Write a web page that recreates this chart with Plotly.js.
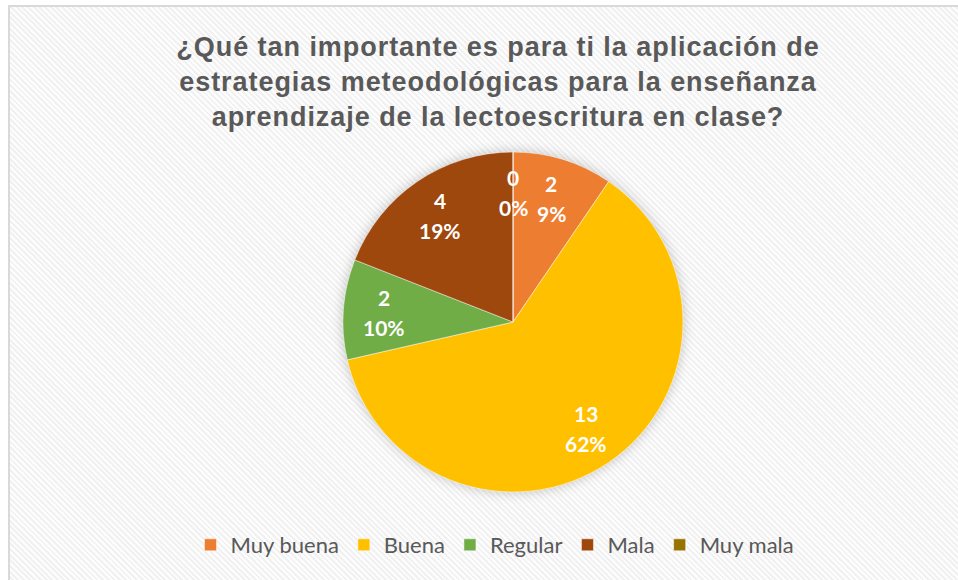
<!DOCTYPE html>
<html>
<head>
<meta charset="utf-8">
<script src="https://cdn.plot.ly/plotly-3.0.1.min.js"></script>
<style>
  html, body { margin:0; padding:0; background:#ffffff; width:958px; height:580px; overflow:hidden; }
  #bg { position:absolute; left:8px; top:5px; width:1000px; height:1000px;
        border:2px solid #d9d9d9; box-sizing:border-box;
        background-color:#fdfdfd;
        background-image: repeating-linear-gradient(45deg, #f1f1f1 0px, #f1f1f1 2px, #fdfdfd 2px, #fdfdfd 4px); }
  #chart { position:absolute; left:0; top:0; width:958px; height:580px; }
  .pielayer { filter: drop-shadow(0px 0px 6px rgba(0,0,0,0.22)); }
  .gtitle { letter-spacing: 0.95px; }
</style>
</head>
<body>
<div id="bg"></div>
<div id="chart"></div>
<script>
// ---- data ----
const categories = ["Muy buena", "Buena", "Regular", "Mala", "Muy mala"];
const counts = [2, 13, 2, 4, 0];
const percentLabels = ["9%", "62%", "10%", "19%", "0%"];
const colors = ["#ED7D31", "#FFC000", "#70AD47", "#9E480E", "#997300"];
const titleText = "¿Qué tan importante es para ti la aplicación de<br>estrategias meteodológicas para la enseñanza<br>aprendizaje de la lectoescritura en clase?";

// ---- layout geometry ----
const W = 958, H = 580;
const cxPx = 513, cyPx = 322, R = 170;
const domX = [(cxPx - R) / W, (cxPx + R) / W];
const domY = [(H - cyPx - R) / H, (H - cyPx + R) / H];

const trace = {
  type: "pie",
  labels: categories,
  values: counts,
  sort: false,
  direction: "clockwise",
  rotation: 0,
  marker: { colors: colors, line: { color: "rgba(255,255,255,0.6)", width: 0.8 } },
  textinfo: "none",
  hoverinfo: "label+value+percent",
  domain: { x: domX, y: domY },
  showlegend: true
};

// data labels placed at each slice's mid-angle (derived from the data)
const total = counts.reduce((a, b) => a + b, 0);
const annotations = [];
let cum = 0;
const labFont = { family: "Lato, 'Liberation Sans', sans-serif", size: 21, color: "#ffffff", weight: "bold" };
counts.forEach((v, i) => {
  const a0 = cum / total * 2 * Math.PI;
  cum += v;
  const a1 = cum / total * 2 * Math.PI;
  const mid = (a0 + a1) / 2;
  const rl = R * 0.76;
  const px = cxPx + rl * Math.sin(mid);
  const py = (H - cyPx) + rl * Math.cos(mid);
  const x = px / W, y = py / H;
  annotations.push({ xref: "paper", yref: "paper", x: x, y: y, text: "<b>" + v + "</b>",
    showarrow: false, xanchor: "center", yanchor: "middle", yshift: 15, font: labFont });
  annotations.push({ xref: "paper", yref: "paper", x: x, y: y, text: "<b>" + percentLabels[i] + "</b>",
    showarrow: false, xanchor: "center", yanchor: "middle", yshift: -15, font: labFont });
});

const layout = {
  width: W, height: H,
  margin: { l: 0, r: 0, t: 0, b: 0 },
  paper_bgcolor: "rgba(0,0,0,0)",
  plot_bgcolor: "rgba(0,0,0,0)",
  title: {
    text: "<b>" + titleText + "</b>",
    font: { family: "'Liberation Sans', Arial, sans-serif", size: 27, color: "#595959" },
    x: 498 / W, xanchor: "center", xref: "paper",
    y: 1 - 56 / H, yanchor: "middle", yref: "paper"
  },
  legend: {
    orientation: "h",
    x: 495 / W, xanchor: "center",
    y: 1 - 545 / H, yanchor: "middle",
    font: { family: "Lato, 'Liberation Sans', sans-serif", size: 22, color: "#595959" },
    itemwidth: 30,
    bgcolor: "rgba(0,0,0,0)"
  },
  annotations: annotations
};

Plotly.newPlot("chart", [trace], layout, { displayModeBar: false, staticPlot: true });
</script>
</body>
</html>
